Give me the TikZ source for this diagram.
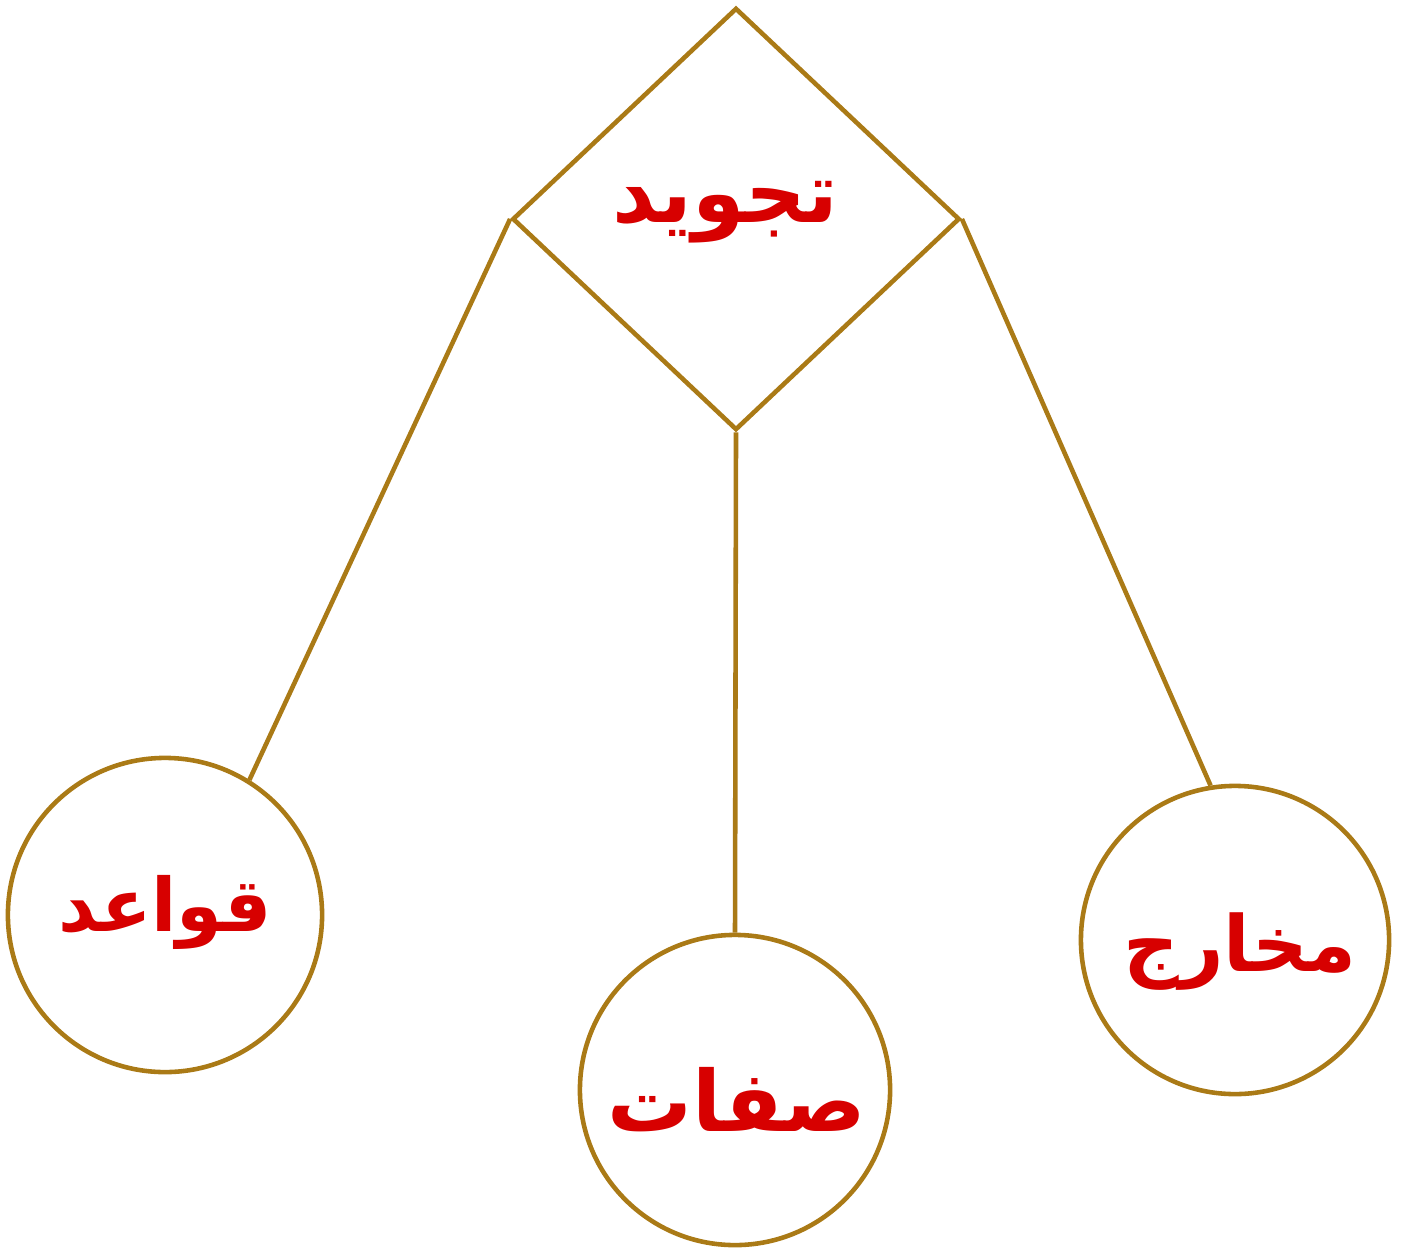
\documentclass[tikz,border=0pt]{standalone}
\usepackage{fontspec}
\usetikzlibrary{shapes.geometric}
\TeXXeTstate=1
\newfontfamily\arabicfont[Script=Arabic]{DejaVu Sans}
\definecolor{gold}{RGB}{170,122,22}
\definecolor{darkred}{RGB}{215,0,0}

\begin{document}
\begin{tikzpicture}[x=0.01cm, y=-0.01cm,
  branch/.style={draw=gold, line width=1.3pt},
  topic/.style={circle, draw=gold, line width=1.3pt, fill=white, minimum size=3.1cm, inner sep=0pt},
  word/.style={text=darkred, font=\arabicfont\bfseries\fontsize{#1}{#1}\selectfont}]
  \useasboundingbox (0,0) rectangle (1407,1255);
  % Main topic
  \node[diamond, draw=gold, line width=1.3pt, minimum width=4.47cm, minimum height=4.22cm, inner sep=0pt] (tajweed) at (736,219) {};
  \node[word=24] (tajweedtext) at (725,212) {\beginR تجوید\endR};
  % Branches
  \node[topic, minimum size=3.14cm] (qawaid) at (165,915) {};
  \node[topic] (sifat) at (735,1090) {};
  \node[topic, minimum size=3.08cm] (makharij) at (1235,940) {};
  \node[word=21] (qawaidtext) at (165,912) {\beginR قواعد\endR};
  \node[word=24] (sifattext) at (737,1100) {\beginR صفات\endR};
  \node[word=22] (makharijtext) at (1240,952) {\beginR مخارج\endR};
  % Connectors
  \draw[branch] (tajweed.west) -- (qawaid.58);
  \draw[branch] (tajweed.south) -- (sifat.north);
  \draw[branch] (tajweed.east) -- (makharij.99);
\end{tikzpicture}
\end{document}
